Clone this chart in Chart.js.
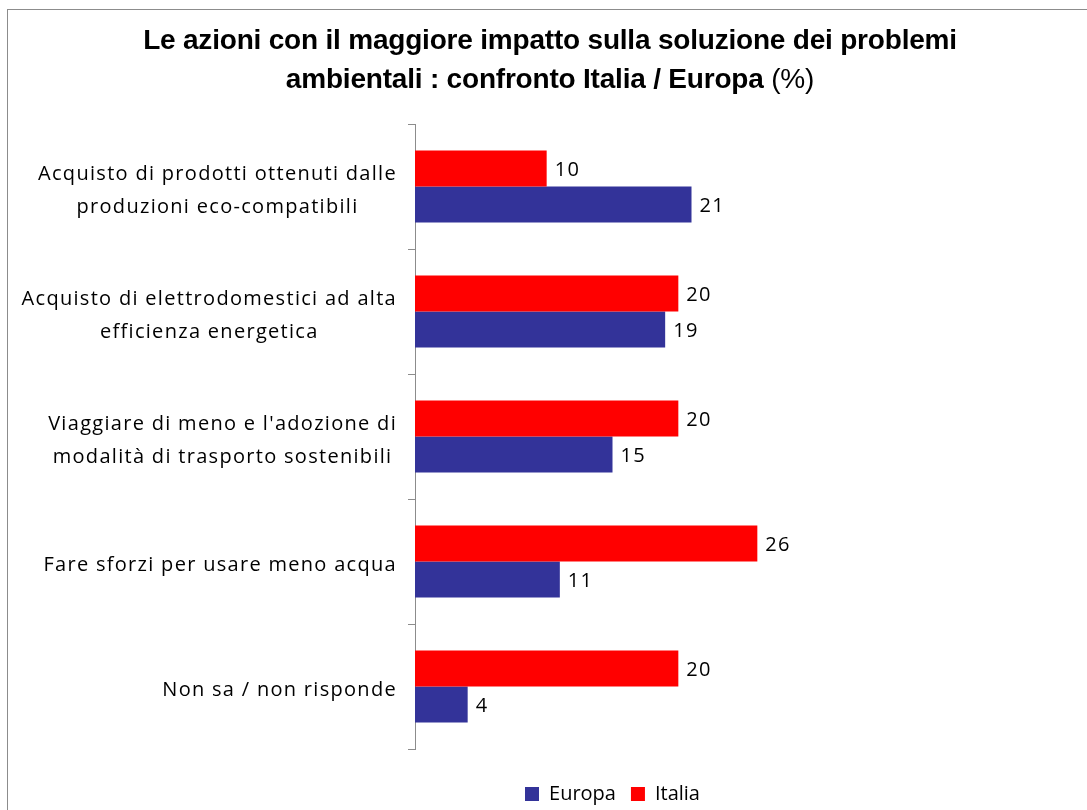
<!DOCTYPE html>
<html>
<head>
<meta charset="utf-8">
<script src="https://cdn.jsdelivr.net/npm/chart.js@4/dist/chart.umd.min.js"></script>
<style>
  html, body { margin: 0; padding: 0; background: #ffffff; overflow: hidden; }
  #wrap { position: relative; width: 1087px; height: 810px; }
  #frame { position: absolute; left: 7px; top: 9px; width: 1200px; height: 1000px;
           border: 1px solid #8c8c8c; box-sizing: border-box; }
  #c { position: absolute; left: 0; top: 0; }
</style>
</head>
<body>
<div id="wrap">
  <div id="frame"></div>
  <canvas id="c" width="1087" height="810"></canvas>
</div>
<script>
// Categories (each entry is a list of label lines)
const categories = [
  ['Acquisto di prodotti ottenuti dalle', 'produzioni eco-compatibili'],
  ['Acquisto di elettrodomestici ad alta', 'efficienza energetica'],
  ["Viaggiare di meno e l'adozione di", 'modalità di trasporto sostenibili'],
  ['Fare sforzi per usare meno acqua'],
  ['Non sa / non risponde']
];
// Percentages
const italia = [10, 20, 20, 26, 20];
const europa = [21, 19, 15, 11, 4];
const seriesNames = ['Italia', 'Europa'];
const titleLine1 = 'Le azioni con il maggiore impatto sulla soluzione dei problemi';
const titleLine2Bold = 'ambientali : confronto Italia / Europa';
const titleLine2Plain = '(%)';

const RED = '#ff0000';
const BLUE = '#333399';
const AXIS = '#8c8c8c';
const LABEL_FONT = '"Open Sans", "Liberation Sans", sans-serif';
const LABEL_SIZE = 20;
const LABEL_SPACING = '1.3px';

// Title with a bold part and a regular "(%)"
const titlePlugin = {
  id: 'mixedTitle',
  afterDraw(chart) {
    const ctx = chart.ctx;
    const cx = 550;
    ctx.save();
    ctx.fillStyle = '#000';
    ctx.textBaseline = 'alphabetic';
    ctx.letterSpacing = '-0.2px';
    const bold = 'bold 28px "Liberation Sans", Arial, sans-serif';
    const plain = '28px "Liberation Sans", Arial, sans-serif';
    ctx.font = bold;
    ctx.textAlign = 'center';
    ctx.fillText(titleLine1, cx, 49);
    const wb = ctx.measureText(titleLine2Bold + ' ').width;
    ctx.font = plain;
    const wp = ctx.measureText(titleLine2Plain).width;
    const x0 = cx - (wb + wp) / 2;
    ctx.textAlign = 'left';
    ctx.font = bold;
    ctx.fillText(titleLine2Bold + ' ', x0, 88);
    ctx.font = plain;
    ctx.fillText(titleLine2Plain, x0 + wb, 88);
    ctx.restore();
  }
};

// Category labels: block right-aligned to the axis, lines centred within the block
const categoryLabelPlugin = {
  id: 'categoryLabels',
  afterDraw(chart) {
    const ctx = chart.ctx;
    const y = chart.scales.y;
    const right = y.right - 18;
    const lh = 33;
    ctx.save();
    ctx.fillStyle = '#000';
    ctx.font = LABEL_SIZE + 'px ' + LABEL_FONT;
    ctx.letterSpacing = LABEL_SPACING;
    ctx.textAlign = 'center';
    ctx.textBaseline = 'middle';
    categories.forEach((lines, i) => {
      const cy = y.getPixelForValue(i) + 4;
      const w = Math.max(...lines.map(l => ctx.measureText(l).width));
      const x = right - w / 2;
      const top = cy - (lines.length - 1) * lh / 2;
      lines.forEach((l, k) => ctx.fillText(l, x, top + k * lh));
    });
    ctx.restore();
  }
};

// Value labels at the end of each bar
const valueLabelPlugin = {
  id: 'valueLabels',
  afterDatasetsDraw(chart) {
    const ctx = chart.ctx;
    ctx.save();
    ctx.fillStyle = '#000';
    ctx.font = LABEL_SIZE + 'px ' + LABEL_FONT;
    ctx.letterSpacing = LABEL_SPACING;
    ctx.textAlign = 'left';
    ctx.textBaseline = 'middle';
    chart.data.datasets.forEach((ds, di) => {
      chart.getDatasetMeta(di).data.forEach((bar, i) => {
        ctx.fillText(String(ds.data[i]), bar.x + 8, bar.y + 2);
      });
    });
    ctx.restore();
  }
};

new Chart(document.getElementById('c'), {
  type: 'bar',
  data: {
    labels: categories.map(l => l.join(' ')),
    datasets: [
      { label: seriesNames[0], data: italia, backgroundColor: RED, borderWidth: 0 },
      { label: seriesNames[1], data: europa, backgroundColor: BLUE, borderWidth: 0 }
    ]
  },
  options: {
    indexAxis: 'y',
    responsive: false,
    animation: false,
    devicePixelRatio: 1,
    categoryPercentage: 0.576,
    barPercentage: 1,
    layout: { padding: { top: 124, right: 277, left: 0, bottom: -4 } },
    scales: {
      x: {
        min: 0, max: 30,
        grid: { display: false },
        border: { display: false },
        ticks: { display: false },
        afterFit(scale) { scale.height = 20; }
      },
      y: {
        grid: { display: true, offset: true, drawOnChartArea: false, drawTicks: true,
                tickLength: 7, color: AXIS, lineWidth: 1 },
        border: { display: true, color: AXIS, width: 1 },
        ticks: { display: false },
        afterFit(scale) { scale.width = 415; }
      }
    },
    plugins: {
      title: { display: false },
      tooltip: { enabled: false },
      legend: {
        position: 'bottom',
        fullSize: false,
        reverse: true,
        labels: {
          boxWidth: 14, boxHeight: 14, padding: 15,
          color: '#000',
          font: { family: LABEL_FONT, size: 20 }
        }
      }
    }
  },
  plugins: [titlePlugin, categoryLabelPlugin, valueLabelPlugin]
});
</script>
</body>
</html>
